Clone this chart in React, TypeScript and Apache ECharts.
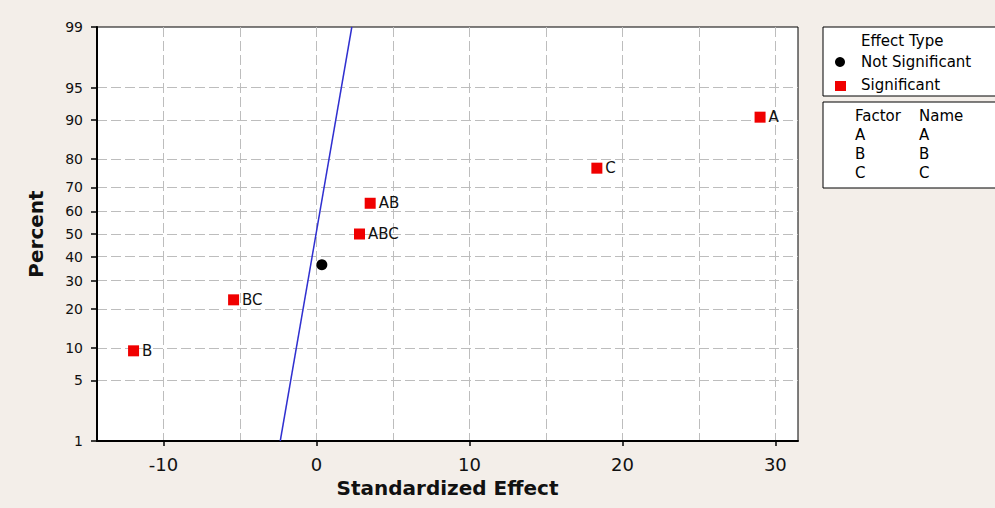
import React, { useEffect, useRef } from "react";
import * as echarts from "echarts";

// ---- data ----
const percentTicks = [1, 5, 10, 20, 30, 40, 50, 60, 70, 80, 90, 95, 99];
const percentGrid = [5, 10, 20, 30, 40, 50, 60, 70, 80, 90, 95];
const xTickLabels = [-10, 0, 10, 20, 30];
const xGridValues = [-10, -5, 0, 5, 10, 15, 20, 25, 30];

const significantNames = ["B", "BC", "ABC", "AB", "C", "A"];
const significantEffects = [-11.96, -5.42, 2.81, 3.51, 18.33, 29.0];
const significantPercents = [9.46, 22.97, 50.0, 63.51, 77.03, 90.54];

const notSignificantEffects = [0.35];
const notSignificantPercents = [36.49];

const fitLineEffects = [-2.37, 2.31];
const fitLinePercents = [1, 99];

const factorCodes = ["A", "B", "C"];
const factorNames = ["A", "B", "C"];

const X_MIN = -14.35;
const X_MAX = 31.48;

// inverse standard normal CDF (Acklam)
function normInv(p: number): number {
  const a = [-3.969683028665376e1, 2.209460984245205e2, -2.759285104469687e2, 1.38357751867269e2, -3.066479806614716e1, 2.506628277459239];
  const b = [-5.447609879822406e1, 1.615858368580409e2, -1.556989798598866e2, 6.680131188771972e1, -1.328068155288572e1];
  const c = [-7.784894002430293e-3, -3.223964580411365e-1, -2.400758277161838, -2.549732539343734, 4.374664141464968, 2.938163982698783];
  const d = [7.784695709041462e-3, 3.224671290700398e-1, 2.445134137142996, 3.754408661907416];
  const pl = 0.02425;
  const ph = 1 - pl;
  let q: number, r: number;
  if (p < pl) {
    q = Math.sqrt(-2 * Math.log(p));
    return (((((c[0] * q + c[1]) * q + c[2]) * q + c[3]) * q + c[4]) * q + c[5]) / ((((d[0] * q + d[1]) * q + d[2]) * q + d[3]) * q + 1);
  }
  if (p <= ph) {
    q = p - 0.5;
    r = q * q;
    return ((((((a[0] * r + a[1]) * r + a[2]) * r + a[3]) * r + a[4]) * r + a[5]) * q) / (((((b[0] * r + b[1]) * r + b[2]) * r + b[3]) * r + b[4]) * r + 1);
  }
  q = Math.sqrt(-2 * Math.log(1 - p));
  return -(((((c[0] * q + c[1]) * q + c[2]) * q + c[3]) * q + c[4]) * q + c[5]) / ((((d[0] * q + d[1]) * q + d[2]) * q + d[3]) * q + 1);
}

const z = (pct: number) => normInv(pct / 100);

const FONT = "DejaVu Sans";
const RED = "#f00000";

export default function App() {
  const ref = useRef<HTMLDivElement>(null);

  useEffect(() => {
    document.body.style.margin = "0";
    if (!ref.current) return;
    const chart = echarts.init(ref.current, undefined, { renderer: "svg" });

    const yMin = z(percentTicks[0]);
    const yMax = z(percentTicks[percentTicks.length - 1]);
    const yTickZ = percentTicks.map(z);

    const labelFor = (val: number) => {
      let best = 0;
      let bd = Infinity;
      yTickZ.forEach((t, i) => {
        const dd = Math.abs(t - val);
        if (dd < bd) {
          bd = dd;
          best = i;
        }
      });
      return String(percentTicks[best]);
    };

    const sigData = significantEffects.map((e, i) => ({
      value: [e, z(significantPercents[i])],
      name: significantNames[i],
    }));
    const nsData = notSignificantEffects.map((e, i) => [e, z(notSignificantPercents[i])]);
    const lineData = fitLineEffects.map((e, i) => [e, z(fitLinePercents[i])]);

    const legendText = (text: string, x: number, y: number) => ({
      type: "text",
      x,
      y,
      style: { text, fill: "#000", font: `15px '${FONT}'`, textVerticalAlign: "middle", textAlign: "left" },
    });

    const option: any = {
      animation: false,
      backgroundColor: "#f3eee9",
      grid: {
        left: 97,
        top: 27,
        right: 197,
        bottom: 67,
        show: true,
        backgroundColor: "#ffffff",
        borderColor: "#000",
        borderWidth: 1,
      },
      xAxis: [
        {
          type: "value",
          min: X_MIN,
          max: X_MAX,
          name: "Standardized Effect",
          nameLocation: "middle",
          nameGap: 37,
          nameTextStyle: { fontFamily: FONT, fontSize: 20, fontWeight: "bold", color: "#111" },
          axisLine: { show: true, onZero: false, lineStyle: { color: "#000", width: 2 } },
          axisTick: { show: true, length: 5, customValues: xTickLabels, lineStyle: { color: "#000", width: 1.5 } },
          axisLabel: { customValues: xTickLabels, margin: 14, fontFamily: FONT, fontSize: 18, color: "#111" },
          splitLine: { show: false },
        },
        {
          type: "value",
          min: X_MIN,
          max: X_MAX,
          position: "top",
          axisLine: { show: false },
          axisTick: { show: false, customValues: xGridValues },
          axisLabel: { show: false },
          splitLine: { show: true, lineStyle: { color: "#bdbdbd", width: 1, type: [10, 4] } },
        },
      ],
      yAxis: [
        {
          type: "value",
          min: yMin,
          max: yMax,
          name: "Percent",
          nameLocation: "middle",
          nameGap: 51,
          nameTextStyle: { fontFamily: FONT, fontSize: 20, fontWeight: "bold", color: "#111" },
          axisLine: { show: true, onZero: false, lineStyle: { color: "#000", width: 2 } },
          axisTick: { show: true, length: 6, customValues: yTickZ, lineStyle: { color: "#000", width: 1.5 } },
          axisLabel: {
            customValues: yTickZ,
            margin: 14,
            fontFamily: FONT,
            fontSize: 14,
            color: "#111",
            formatter: (v: number) => labelFor(v),
          },
          splitLine: { show: false },
        },
        {
          type: "value",
          min: yMin,
          max: yMax,
          position: "right",
          axisLine: { show: false },
          axisTick: { show: false, customValues: percentGrid.map(z) },
          axisLabel: { show: false },
          splitLine: { show: true, lineStyle: { color: "#bdbdbd", width: 1, type: [10, 4] } },
        },
      ],
      series: [
        {
          type: "line",
          data: lineData,
          xAxisIndex: 0,
          yAxisIndex: 0,
          showSymbol: false,
          symbol: "none",
          lineStyle: { color: "#3030d0", width: 1.5 },
          z: 2,
          silent: true,
        },
        {
          type: "scatter",
          name: "Not Significant",
          data: nsData,
          xAxisIndex: 0,
          yAxisIndex: 0,
          symbol: "circle",
          symbolSize: 11,
          itemStyle: { color: "#000", opacity: 1 },
          z: 3,
        },
        {
          type: "scatter",
          name: "Significant",
          data: sigData,
          xAxisIndex: 0,
          yAxisIndex: 0,
          symbol: "rect",
          symbolSize: [11, 11],
          itemStyle: { color: RED, opacity: 1 },
          label: {
            show: true,
            position: "right",
            distance: 3,
            formatter: (p: any) => p.name,
            fontFamily: FONT,
            fontSize: 15,
            color: "#111",
          },
          z: 3,
        },
      ],
      graphic: [
        {
          type: "rect",
          shape: { x: 823, y: 27, width: 190, height: 69 },
          style: { fill: "#ffffff", stroke: "#000", lineWidth: 1 },
        },
        {
          type: "rect",
          shape: { x: 823, y: 102, width: 190, height: 86 },
          style: { fill: "#ffffff", stroke: "#000", lineWidth: 1 },
        },
        legendText("Effect Type", 861, 41),
        { type: "circle", shape: { cx: 840, cy: 62, r: 5 }, style: { fill: "#000" } },
        legendText("Not Significant", 861, 62),
        { type: "rect", shape: { x: 835, y: 81, width: 11, height: 10 }, style: { fill: RED } },
        legendText("Significant", 861, 85),
        legendText("Factor", 855, 116),
        legendText("Name", 919, 116),
        ...factorCodes.map((f, i) => legendText(f, 855, 135 + i * 19)),
        ...factorNames.map((f, i) => legendText(f, 919, 135 + i * 19)),
      ],
    };

    chart.setOption(option);
    return () => chart.dispose();
  }, []);

  return <div ref={ref} style={{ width: 995, height: 508 }} />;
}
